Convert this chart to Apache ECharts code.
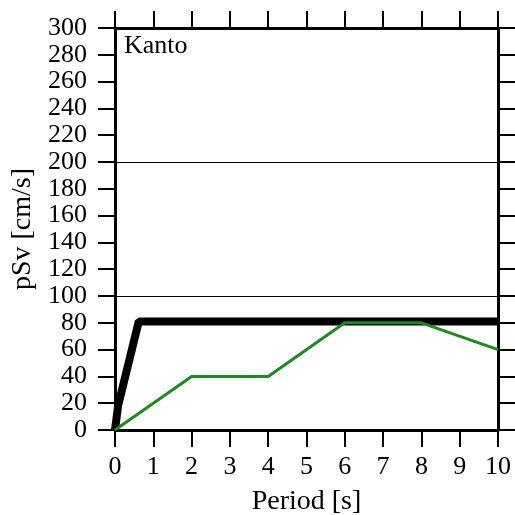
<!DOCTYPE html>
<html>
<head>
<meta charset="utf-8">
<script src="https://cdn.jsdelivr.net/npm/echarts@6/dist/echarts.min.js"></script>
<style>
  html, body { margin: 0; padding: 0; background: #fff; }
  #chart { width: 515px; height: 515px; }
</style>
</head>
<body>
<div id="chart"></div>
<script>
var levelPeriods = [0, 0.08, 0.62, 10];
var levelValues = [0, 18, 81, 81];
var kantoPeriods = [0, 2, 4, 6, 8, 10];
var kantoValues = [0, 40, 40, 80, 80, 60];
var gridValues = [100, 200];

var chart = echarts.init(document.getElementById("chart"));
var font = "Liberation Serif";

function pairs(xs, ys) {
  return xs.map(function (x, i) { return [x, ys[i]]; });
}

var axisLine = { show: true, onZero: false, lineStyle: { color: "#000", width: 3 } };
var axisTick = { show: true, inside: false, length: 17, lineStyle: { color: "#000", width: 2 } };

var option = {
  animation: false,
  grid: { left: 115, top: 28, right: 17, bottom: 85, outerBoundsMode: "none", containLabel: false },
  graphic: [{
    type: "text", left: 124, top: 33,
    style: { text: "Kanto", font: "26px " + font, fill: "#000" }
  }],
  xAxis: [{
    type: "value", min: 0, max: 10, interval: 1, position: "bottom",
    name: "Period [s]", nameLocation: "middle", nameGap: 58,
    nameTextStyle: { fontFamily: font, fontSize: 28, color: "#000" },
    axisLine: axisLine, axisTick: axisTick,
    axisLabel: { fontFamily: font, fontSize: 26, color: "#000", margin: 24 },
    splitLine: { show: false }
  }, {
    type: "value", min: 0, max: 10, interval: 1, position: "top",
    axisLine: axisLine, axisTick: axisTick,
    axisLabel: { show: false }, splitLine: { show: false }
  }],
  yAxis: [{
    type: "value", min: 0, max: 300, interval: 20, position: "left",
    name: "pSv [cm/s]", nameLocation: "middle", nameGap: 74,
    nameTextStyle: { fontFamily: font, fontSize: 28, color: "#000" },
    axisLine: axisLine, axisTick: axisTick,
    axisLabel: { fontFamily: font, fontSize: 26, color: "#000", margin: 28 },
    splitLine: { show: false }
  }, {
    type: "value", min: 0, max: 300, interval: 20, position: "right",
    axisLine: axisLine, axisTick: axisTick,
    axisLabel: { show: false }, splitLine: { show: false }
  }],
  series: [{
    type: "line",
    data: pairs(levelPeriods, levelValues),
    showSymbol: false,
    lineStyle: { color: "#000", width: 8 },
    markLine: {
      silent: true, symbol: "none", label: { show: false },
      lineStyle: { color: "#000", width: 1, type: "solid" },
      data: gridValues.map(function (v) { return { yAxis: v }; })
    },
    z: 2
  }, {
    type: "line",
    data: pairs(kantoPeriods, kantoValues),
    showSymbol: false,
    lineStyle: { color: "#1e8a1e", width: 3 },
    z: 3
  }]
};

chart.setOption(option);
</script>
</body>
</html>
